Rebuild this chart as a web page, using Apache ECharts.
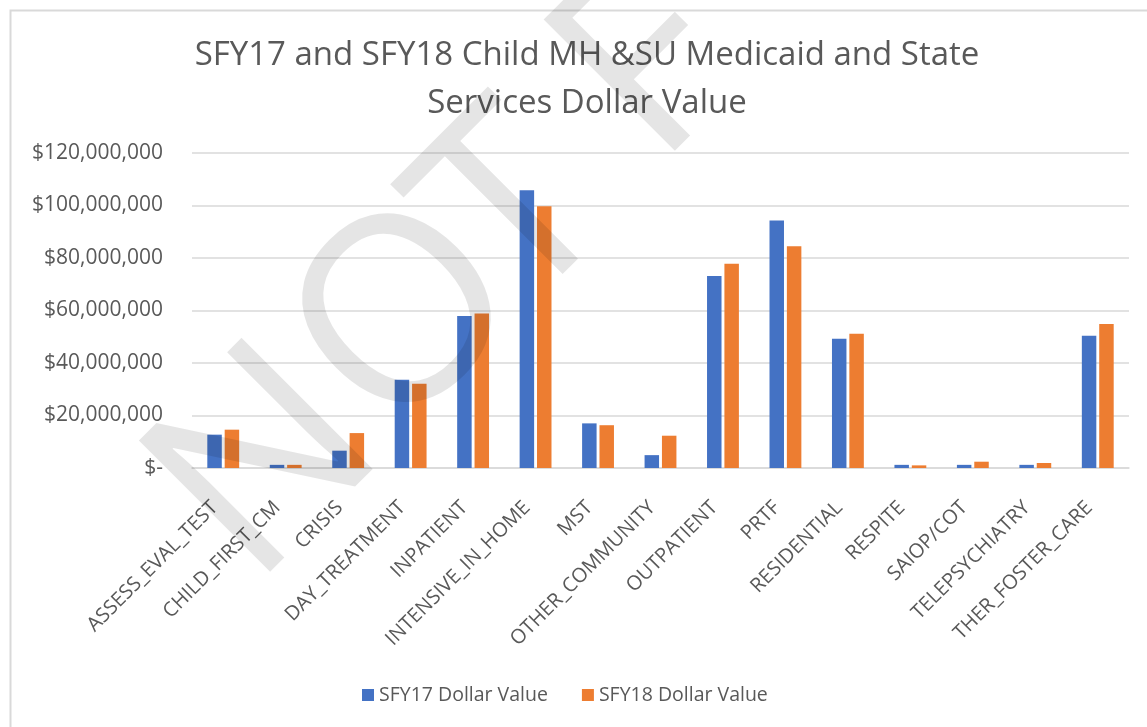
<!DOCTYPE html>
<html>
<head>
<meta charset="utf-8">
<script src="https://cdn.jsdelivr.net/npm/echarts@6/dist/echarts.min.js"></script>
<style>
  html, body { margin: 0; padding: 0; background: #fff; }
  #chart { width: 1147px; height: 727px; }
</style>
</head>
<body>
<div id="chart"></div>
<script>
// categories and values (dollars)
const services = ['ASSESS_EVAL_TEST', 'CHILD_FIRST_CM', 'CRISIS', 'DAY_TREATMENT', 'INPATIENT',
  'INTENSIVE_IN_HOME', 'MST', 'OTHER_COMMUNITY', 'OUTPATIENT', 'PRTF', 'RESIDENTIAL',
  'RESPITE', 'SAIOP/COT', 'TELEPSYCHIATRY', 'THER_FOSTER_CARE']
const sfy17 = [12700000, 1200000, 6600000, 33600000, 57900000, 105800000, 17000000, 4900000,
  73100000, 94300000, 49200000, 1200000, 1200000, 1200000, 50400000]
const sfy18 = [14600000, 1200000, 13300000, 32100000, 58900000, 99700000, 16300000, 12300000,
  77800000, 84500000, 51100000, 1000000, 2400000, 1900000, 54900000]
const seriesNames = ['SFY17 Dollar Value', 'SFY18 Dollar Value']
const yTicks = [0, 20000000, 40000000, 60000000, 80000000, 100000000, 120000000]

// watermark letters, each placed by hand
const wmLetters = ['N', 'O', 'T', 'F']
const wmPos = [[269, 468], [410, 321], [518, 214], [652, 69]]

const textColor = '#595959'
const font = 'Open Sans'

const chart = echarts.init(document.getElementById('chart'))

const watermark = wmLetters.map((ch, i) => ({
  type: 'text',
  x: wmPos[i][0],
  y: wmPos[i][1],
  rotation: Math.PI / 4,
  silent: true,
  z: 100,
  style: {
    text: ch,
    font: '260px "Open Sans"',
    fill: 'rgba(0,0,0,0.1)',
    textAlign: 'center',
    textVerticalAlign: 'middle'
  }
}))

const option = {
  backgroundColor: '#fff',
  animation: false,
  title: {
    text: 'SFY17 and SFY18 Child MH &SU Medicaid and State\nServices Dollar Value',
    left: 582,
    top: 27,
    textAlign: 'center',
    textStyle: {
      fontFamily: font,
      fontSize: 33,
      fontWeight: 'normal',
      color: textColor,
      lineHeight: 48
    }
  },
  legend: {
    bottom: 17,
    left: 357,
    itemWidth: 12,
    itemHeight: 12,
    itemGap: 34,
    icon: 'rect',
    textStyle: { fontFamily: font, fontSize: 19.5, color: textColor }
  },
  grid: {
    left: 192,
    right: 18,
    top: 153,
    bottom: 259,
    containLabel: false
  },
  xAxis: {
    type: 'category',
    data: services,
    axisLine: { lineStyle: { color: '#d9d9d9', width: 1.5 } },
    axisTick: { show: false },
    axisLabel: {
      interval: 0,
      rotate: 45,
      margin: 28,
      padding: [0, 12, 0, 0],
      fontFamily: font,
      fontSize: 20,
      color: textColor
    }
  },
  yAxis: {
    type: 'value',
    min: yTicks[0],
    max: yTicks[yTicks.length - 1],
    interval: yTicks[1] - yTicks[0],
    axisLine: { show: false },
    axisTick: { show: false },
    splitLine: { lineStyle: { color: '#d9d9d9', width: 1.5 } },
    axisLabel: {
      margin: 29,
      fontFamily: font,
      fontSize: 21,
      color: textColor,
      formatter: v => v === 0 ? '$-' : '$' + v.toLocaleString('en-US')
    }
  },
  series: [
    {
      name: seriesNames[0],
      type: 'bar',
      data: sfy17,
      barGap: '20%',
      barCategoryGap: '49%',
      itemStyle: { color: '#4472C4' }
    },
    {
      name: seriesNames[1],
      type: 'bar',
      data: sfy18,
      itemStyle: { color: '#ED7D31' }
    }
  ],
  graphic: [
    // chart frame
    {
      type: 'rect',
      left: 8, top: 8,
      shape: { width: 1200, height: 800 },
      style: { fill: 'none', stroke: '#d9d9d9', lineWidth: 2 },
      z: -1
    }
  ].concat(watermark)
}

chart.setOption(option)
</script>
</body>
</html>
